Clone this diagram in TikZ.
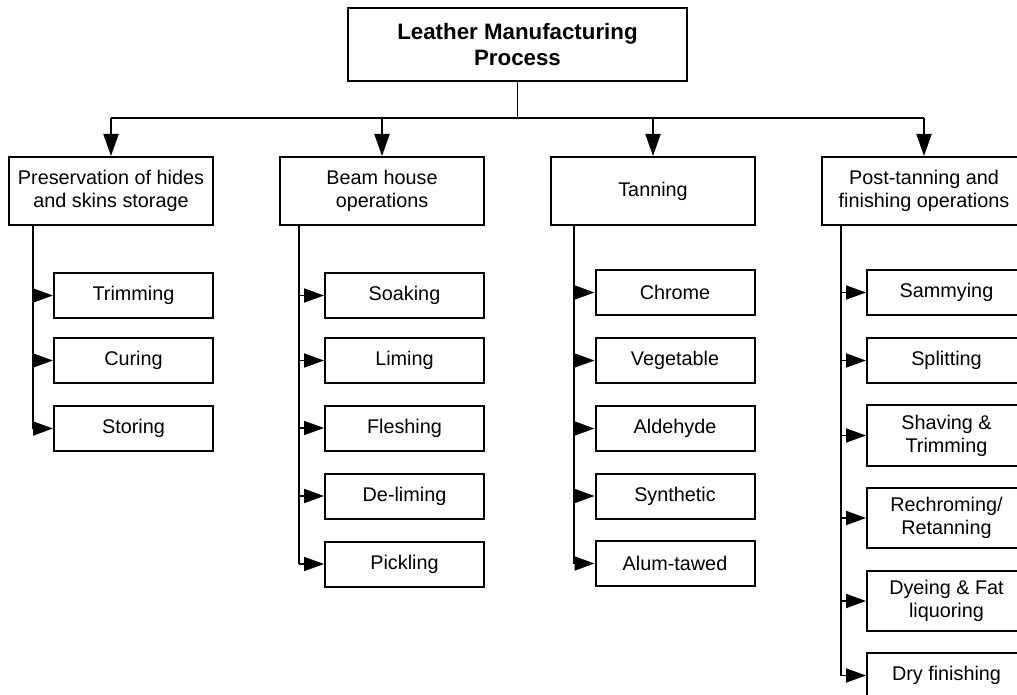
\documentclass[tikz,border=0pt]{standalone}
\usepackage{fontspec}
\setmainfont{Liberation Sans}
\usetikzlibrary{arrows.meta}
\begin{document}
\begin{tikzpicture}[x=1pt,y=-1pt,
  box/.style={draw,line width=2pt,rectangle,align=center,inner sep=0pt,
     font=\fontsize{19.8}{23}\selectfont},
  topbox/.style={box,minimum width=339pt,minimum height=73pt,
     font=\fontsize{22.3}{26}\selectfont\bfseries},
  lvlbox/.style={box,minimum width=204pt,minimum height=68pt},
  kid/.style={box,minimum width=159pt,minimum height=45pt},
  kidtall/.style={box,minimum width=159pt,minimum height=60pt},
  conn/.style={line width=1.9pt},
  downarr/.style={conn,-{Triangle[length=22pt,width=15pt]}},
  sidearr/.style={conn,-{Triangle[length=20pt,width=14pt]}}]
\useasboundingbox (0,0) rectangle (1017,695);
\clip (0,0) rectangle (1017,695);
\fill[white] (0,0) rectangle (1017,695);

\node[topbox] (top) at (517.5,44.5) {Leather Manufacturing\\Process};

\node[lvlbox] (p1) at (111,191) {Preservation of hides\\and skins storage};
\node[lvlbox] (p2) at (382,191) {Beam house\\operations};
\node[lvlbox] (p3) at (653,191) {Tanning};
\node[lvlbox] (p4) at (924,191) {Post-tanning and\\finishing operations};

\coordinate (hub) at (517.5,118);
\coordinate (hl) at (111,118);
\coordinate (hr) at (924,118);
\draw[conn] (top.south) -- (hub);
\draw[conn] (hl) -- (hr);
\foreach \p in {p1,p2,p3,p4} \draw[downarr] (hub -| \p.north) -- (\p.north);

% column 1
\node[kid] (a1) at (133.5,295.5) {Trimming};
\node[kid] (a2) at (133.5,360.5) {Curing};
\node[kid] (a3) at (133.5,428.5) {Storing};
% column 2
\node[kid] (b1) at (404.5,295.5) {Soaking};
\node[kid] (b2) at (404.5,360.5) {Liming};
\node[kid] (b3) at (404.5,428) {Fleshing};
\node[kid] (b4) at (404.5,496) {De-liming};
\node[kid] (b5) at (404.5,564) {Pickling};
% column 3
\node[kid] (c1) at (675,292.5) {Chrome};
\node[kid] (c2) at (675,360.5) {Vegetable};
\node[kid] (c3) at (675,428.5) {Aldehyde};
\node[kid] (c4) at (675,496) {Synthetic};
\node[kid] (c5) at (675,563.5) {Alum-tawed};
% column 4
\node[kid] (d1) at (946.5,292.5) {Sammying};
\node[kid] (d2) at (946.5,360.5) {Splitting};
\node[kidtall,minimum height=61pt] (d3) at (946.5,435.5) {Shaving \&\\Trimming};
\node[kidtall] (d4) at (946.5,518) {Rechroming/\\Retanning};
\node[kidtall] (d5) at (946.5,601) {Dyeing \& Fat\\liquoring};
\node[kid] (d6) at (946.5,675.5) {Dry finishing};

\coordinate (v1) at (33,225);
\coordinate (v2) at (299,225);
\coordinate (v3) at (574,225);
\coordinate (v4) at (841,225);

\draw[conn] (v1) -- (v1 |- a3.west);
\foreach \k in {a1,a2,a3} \draw[sidearr] (v1 |- \k.west) -- (\k.west);
\draw[conn] (v2) -- (v2 |- b5.west);
\foreach \k in {b1,b2,b3,b4,b5} \draw[sidearr] (v2 |- \k.west) -- (\k.west);
\draw[conn] (v3) -- (v3 |- c5.west);
\foreach \k in {c1,c2,c3,c4,c5} \draw[sidearr] (v3 |- \k.west) -- (\k.west);
\draw[conn] (v4) -- (v4 |- d6.west);
\foreach \k in {d1,d2,d3,d4,d5,d6} \draw[sidearr] (v4 |- \k.west) -- (\k.west);
\end{tikzpicture}
\end{document}
